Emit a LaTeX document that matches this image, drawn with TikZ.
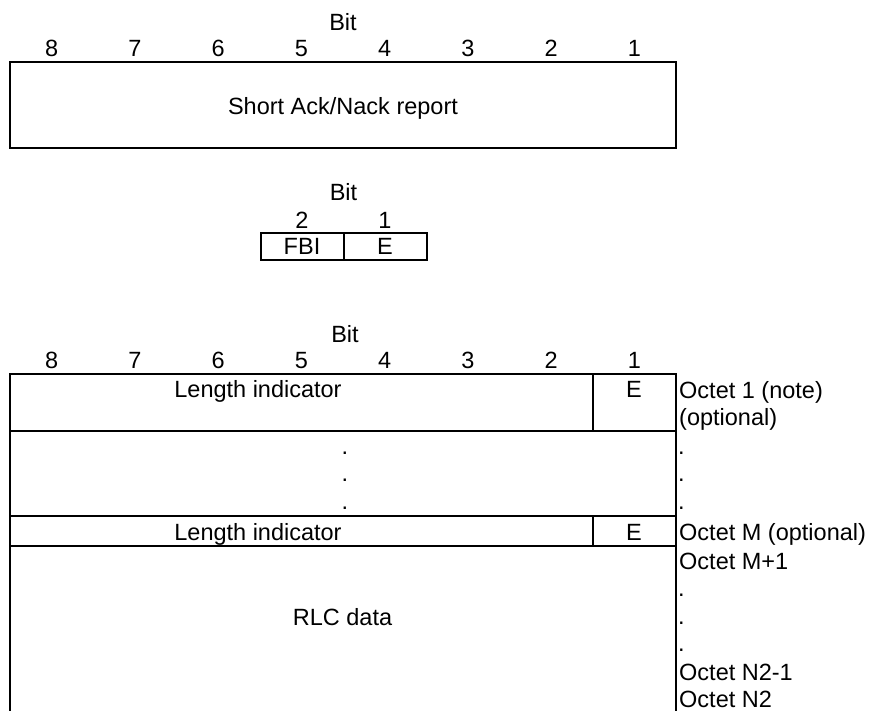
\documentclass[tikz,border=0pt]{standalone}
\usepackage{fontspec}
\setmainfont{Liberation Sans}
\begin{document}
\begin{tikzpicture}[x=1pt,y=-1pt,
  every node/.style={inner sep=0pt,font=\fontsize{23.5}{28}\selectfont},
  lbl/.style={anchor=base},
  lblw/.style={anchor=base west},
  frame/.style={line width=2pt},
  divider/.style={line width=1.5pt}]
\useasboundingbox (0,0) rectangle (873,711);

% ---------- Short Ack/Nack report ----------
\node[lbl] (bitA) at (343,31) {Bit};
\foreach \i in {1,...,8}
  \node[lbl] (dA\i) at ({676-83.25*(\i-0.5)},57) {\i};
\draw[frame] (10,62) rectangle (676,148);
\node[lbl] (sanr) at (343,115) {Short Ack/Nack report};

% ---------- FBI / E ----------
\node[lbl] (bitB) at (343.5,200.7) {Bit};
\node[lbl] (dB2) at (302,228.3) {2};
\node[lbl] (dB1) at (385,228.3) {1};
\draw[frame] (260.7,232.7) rectangle (426.7,260);
\draw[frame] (343.5,232.7) -- (343.5,260);
\node[lbl] (fbi) at (302,255) {FBI};
\node[lbl] (eB) at (385,255) {E};

% ---------- Length indicator table ----------
\node[lbl] (bitC) at (345,342) {Bit};
\foreach \i in {1,...,8}
  \node[lbl] (dC\i) at ({676-83.25*(\i-0.5)},368) {\i};
\draw[frame] (10,711) -- (10,374) -- (676,374) -- (676,711);
\draw[frame] (10,430.7) -- (676,430.7);
\draw[frame] (10,515.7) -- (676,515.7);
\draw[frame] (10,545.7) -- (676,545.7);
\draw[divider] (593,374) -- (593,430.7);
\draw[divider] (593,515.7) -- (593,545.7);

\node[lbl] (li1) at (258,397) {Length indicator};
\node[lbl] (e1) at (634,397) {E};
\node[lblw] (o1) at (679,398) {Octet 1 (note)};
\node[lblw] (o1b) at (679,425.6) {(optional)};

\node[lbl] (cd1) at (345,454) {.};
\node[lbl] (cd2) at (345,481.5) {.};
\node[lbl] (cd3) at (345,509) {.};
\node[lblw] (rd1) at (678,454) {.};
\node[lblw] (rd2) at (678,481.5) {.};
\node[lblw] (rd3) at (678,509) {.};

\node[lbl] (li2) at (258,540) {Length indicator};
\node[lbl] (e2) at (634,540) {E};
\node[lblw] (om) at (679,540.5) {Octet M (optional)};

\node[lbl] (rlc) at (342.5,625) {RLC data};
\node[lblw] (om1) at (679,569) {Octet M+1};
\node[lblw] (rd4) at (678,596.6) {.};
\node[lblw] (rd5) at (678,624.2) {.};
\node[lblw] (rd6) at (678,651.8) {.};
\node[lblw] (on1) at (679,680) {Octet N2-1};
\node[lblw] (on2) at (679,707) {Octet N2};
\end{tikzpicture}
\end{document}
